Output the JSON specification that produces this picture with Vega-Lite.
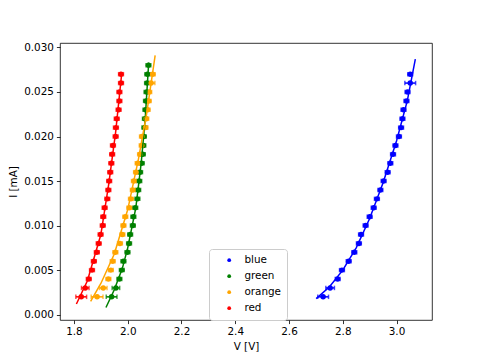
{
  "$schema": "https://vega.github.io/schema/vega-lite/v6.json",
  "width": 372,
  "height": 277,
  "autosize": {"type": "none"},
  "padding": {"left": 60, "top": 43, "right": 48, "bottom": 40},
  "background": "white",
  "config": {
    "view": {"stroke": "black", "strokeWidth": 0.8},
    "font": "DejaVu Sans",
    "axis": {
      "domain": false, "grid": false,
      "tickColor": "black", "tickSize": 3.6, "tickWidth": 0.8,
      "labelFont": "DejaVu Sans", "labelFontSize": 10.4, "labelColor": "black", "labelPadding": 3,
      "labelOverlap": false, "labelFlush": false,
      "titleFont": "DejaVu Sans", "titleFontSize": 10.4, "titleFontWeight": "normal", "titleColor": "black"
    }
  },
  "datasets": {
    "meas": [
      {"c":"blue","I":0.002,"V":2.727,"dV":0.02},
      {"c":"blue","I":0.003,"V":2.753,"dV":0.016},
      {"c":"blue","I":0.004,"V":2.781,"dV":0.009},
      {"c":"blue","I":0.005,"V":2.797,"dV":0.009},
      {"c":"blue","I":0.006,"V":2.822,"dV":0.009},
      {"c":"blue","I":0.007,"V":2.843,"dV":0.009},
      {"c":"blue","I":0.008,"V":2.860,"dV":0.009},
      {"c":"blue","I":0.009,"V":2.868,"dV":0.009},
      {"c":"blue","I":0.010,"V":2.885,"dV":0.009},
      {"c":"blue","I":0.011,"V":2.900,"dV":0.009},
      {"c":"blue","I":0.012,"V":2.915,"dV":0.009},
      {"c":"blue","I":0.013,"V":2.927,"dV":0.009},
      {"c":"blue","I":0.014,"V":2.940,"dV":0.009},
      {"c":"blue","I":0.015,"V":2.952,"dV":0.009},
      {"c":"blue","I":0.016,"V":2.967,"dV":0.009},
      {"c":"blue","I":0.017,"V":2.977,"dV":0.009},
      {"c":"blue","I":0.018,"V":2.987,"dV":0.009},
      {"c":"blue","I":0.019,"V":2.996,"dV":0.009},
      {"c":"blue","I":0.020,"V":3.009,"dV":0.009},
      {"c":"blue","I":0.021,"V":3.017,"dV":0.009},
      {"c":"blue","I":0.022,"V":3.022,"dV":0.009},
      {"c":"blue","I":0.023,"V":3.026,"dV":0.009},
      {"c":"blue","I":0.024,"V":3.037,"dV":0.009},
      {"c":"blue","I":0.025,"V":3.041,"dV":0.009},
      {"c":"blue","I":0.026,"V":3.051,"dV":0.02},
      {"c":"blue","I":0.027,"V":3.051,"dV":0.009},
      {"c":"green","I":0.002,"V":1.940,"dV":0.02},
      {"c":"green","I":0.003,"V":1.956,"dV":0.014},
      {"c":"green","I":0.004,"V":1.969,"dV":0.009},
      {"c":"green","I":0.005,"V":1.978,"dV":0.009},
      {"c":"green","I":0.006,"V":1.984,"dV":0.009},
      {"c":"green","I":0.007,"V":1.999,"dV":0.009},
      {"c":"green","I":0.008,"V":2.005,"dV":0.009},
      {"c":"green","I":0.009,"V":2.009,"dV":0.009},
      {"c":"green","I":0.010,"V":2.019,"dV":0.009},
      {"c":"green","I":0.011,"V":2.021,"dV":0.009},
      {"c":"green","I":0.012,"V":2.028,"dV":0.009},
      {"c":"green","I":0.013,"V":2.036,"dV":0.009},
      {"c":"green","I":0.014,"V":2.039,"dV":0.009},
      {"c":"green","I":0.015,"V":2.043,"dV":0.009},
      {"c":"green","I":0.016,"V":2.046,"dV":0.009},
      {"c":"green","I":0.017,"V":2.052,"dV":0.009},
      {"c":"green","I":0.018,"V":2.056,"dV":0.009},
      {"c":"green","I":0.019,"V":2.058,"dV":0.009},
      {"c":"green","I":0.020,"V":2.060,"dV":0.009},
      {"c":"green","I":0.021,"V":2.062,"dV":0.009},
      {"c":"green","I":0.022,"V":2.064,"dV":0.009},
      {"c":"green","I":0.023,"V":2.066,"dV":0.009},
      {"c":"green","I":0.024,"V":2.068,"dV":0.009},
      {"c":"green","I":0.025,"V":2.070,"dV":0.009},
      {"c":"green","I":0.026,"V":2.072,"dV":0.009},
      {"c":"green","I":0.027,"V":2.073,"dV":0.009},
      {"c":"green","I":0.028,"V":2.077,"dV":0.009},
      {"c":"orange","I":0.002,"V":1.886,"dV":0.022},
      {"c":"orange","I":0.003,"V":1.909,"dV":0.014},
      {"c":"orange","I":0.004,"V":1.928,"dV":0.009},
      {"c":"orange","I":0.005,"V":1.937,"dV":0.009},
      {"c":"orange","I":0.006,"V":1.944,"dV":0.009},
      {"c":"orange","I":0.007,"V":1.954,"dV":0.009},
      {"c":"orange","I":0.008,"V":1.971,"dV":0.009},
      {"c":"orange","I":0.009,"V":1.980,"dV":0.009},
      {"c":"orange","I":0.010,"V":1.984,"dV":0.009},
      {"c":"orange","I":0.011,"V":1.991,"dV":0.009},
      {"c":"orange","I":0.012,"V":2.006,"dV":0.009},
      {"c":"orange","I":0.013,"V":2.012,"dV":0.009},
      {"c":"orange","I":0.014,"V":2.019,"dV":0.009},
      {"c":"orange","I":0.015,"V":2.023,"dV":0.009},
      {"c":"orange","I":0.016,"V":2.031,"dV":0.009},
      {"c":"orange","I":0.017,"V":2.037,"dV":0.009},
      {"c":"orange","I":0.018,"V":2.046,"dV":0.009},
      {"c":"orange","I":0.019,"V":2.052,"dV":0.009},
      {"c":"orange","I":0.020,"V":2.053,"dV":0.009},
      {"c":"orange","I":0.021,"V":2.066,"dV":0.009},
      {"c":"orange","I":0.022,"V":2.069,"dV":0.009},
      {"c":"orange","I":0.023,"V":2.074,"dV":0.009},
      {"c":"orange","I":0.024,"V":2.078,"dV":0.009},
      {"c":"orange","I":0.025,"V":2.080,"dV":0.009},
      {"c":"orange","I":0.026,"V":2.087,"dV":0.014},
      {"c":"orange","I":0.027,"V":2.093,"dV":0.009},
      {"c":"red","I":0.002,"V":1.827,"dV":0.02},
      {"c":"red","I":0.003,"V":1.842,"dV":0.014},
      {"c":"red","I":0.004,"V":1.855,"dV":0.009},
      {"c":"red","I":0.005,"V":1.867,"dV":0.009},
      {"c":"red","I":0.006,"V":1.874,"dV":0.009},
      {"c":"red","I":0.007,"V":1.885,"dV":0.009},
      {"c":"red","I":0.008,"V":1.892,"dV":0.009},
      {"c":"red","I":0.009,"V":1.899,"dV":0.009},
      {"c":"red","I":0.010,"V":1.907,"dV":0.009},
      {"c":"red","I":0.011,"V":1.909,"dV":0.009},
      {"c":"red","I":0.012,"V":1.914,"dV":0.009},
      {"c":"red","I":0.013,"V":1.924,"dV":0.009},
      {"c":"red","I":0.014,"V":1.928,"dV":0.009},
      {"c":"red","I":0.015,"V":1.931,"dV":0.009},
      {"c":"red","I":0.016,"V":1.935,"dV":0.009},
      {"c":"red","I":0.017,"V":1.939,"dV":0.009},
      {"c":"red","I":0.018,"V":1.942,"dV":0.009},
      {"c":"red","I":0.019,"V":1.945,"dV":0.009},
      {"c":"red","I":0.020,"V":1.955,"dV":0.009},
      {"c":"red","I":0.021,"V":1.956,"dV":0.009},
      {"c":"red","I":0.022,"V":1.959,"dV":0.009},
      {"c":"red","I":0.023,"V":1.966,"dV":0.009},
      {"c":"red","I":0.024,"V":1.969,"dV":0.009},
      {"c":"red","I":0.025,"V":1.969,"dV":0.009},
      {"c":"red","I":0.026,"V":1.975,"dV":0.009},
      {"c":"red","I":0.027,"V":1.975,"dV":0.009}
    ],
    "fit": [
      {"c":"blue","V":2.701,"I":0.0018},
      {"c":"blue","V":2.75,"I":0.0031},
      {"c":"blue","V":2.80,"I":0.0050},
      {"c":"blue","V":2.85,"I":0.0075},
      {"c":"blue","V":2.90,"I":0.0108},
      {"c":"blue","V":2.95,"I":0.0148},
      {"c":"blue","V":3.00,"I":0.0195},
      {"c":"blue","V":3.04,"I":0.0240},
      {"c":"blue","V":3.070,"I":0.0287},
      {"c":"green","V":1.919,"I":0.0008},
      {"c":"green","V":1.95,"I":0.0028},
      {"c":"green","V":1.98,"I":0.0052},
      {"c":"green","V":2.00,"I":0.0075},
      {"c":"green","V":2.03,"I":0.0120},
      {"c":"green","V":2.05,"I":0.0170},
      {"c":"green","V":2.065,"I":0.0220},
      {"c":"green","V":2.078,"I":0.0283},
      {"c":"orange","V":1.862,"I":0.0015},
      {"c":"orange","V":1.90,"I":0.0035},
      {"c":"orange","V":1.95,"I":0.0068},
      {"c":"orange","V":2.00,"I":0.0118},
      {"c":"orange","V":2.04,"I":0.0175},
      {"c":"orange","V":2.07,"I":0.0225},
      {"c":"orange","V":2.102,"I":0.0291},
      {"c":"red","V":1.809,"I":0.0012},
      {"c":"red","V":1.85,"I":0.0038},
      {"c":"red","V":1.90,"I":0.0090},
      {"c":"red","V":1.93,"I":0.0148},
      {"c":"red","V":1.955,"I":0.0205},
      {"c":"red","V":1.978,"I":0.0272}
    ]
  },
  "resolve": {"legend": {"color": "independent"}},
  "layer": [
    {
      "data": {"name": "meas"},
      "mark": {"type": "errorbar", "ticks": {"size": 4.5, "thickness": 1.5}, "rule": {"strokeWidth": 1.5}},
      "encoding": {
        "x": {"field": "V", "type": "quantitative", "title": "V [V]"},
        "xError": {"field": "dV"},
        "y": {"field": "I", "type": "quantitative", "title": "I [mA]"},
        "color": {"field": "c", "type": "nominal", "legend": null}
      }
    },
    {
      "data": {"name": "meas"},
      "mark": {"type": "point", "filled": true, "size": 30, "opacity": 1},
      "encoding": {
        "x": {"field": "V", "type": "quantitative",
              "scale": {"domain": [1.748, 3.132], "nice": false, "zero": false},
              "axis": {"title": "V [V]", "values": [1.8, 2.0, 2.2, 2.4, 2.6, 2.8, 3.0], "format": ".1f", "titlePadding": 4}},
        "y": {"field": "I", "type": "quantitative",
              "scale": {"domain": [-0.0006, 0.0305], "nice": false, "zero": false},
              "axis": {"title": "I [mA]", "values": [0, 0.005, 0.01, 0.015, 0.02, 0.025, 0.03], "format": ".3f", "titlePadding": 5}},
        "color": {"field": "c", "type": "nominal",
                  "scale": {"domain": ["blue", "green", "orange", "red"], "range": ["#0000ff", "#008000", "#ffa500", "#ff0000"]},
                  "legend": {"title": null, "orient": "none", "legendX": 149, "legendY": 206,
                             "padding": 6, "symbolType": "circle", "symbolSize": 14, "symbolOffset": 9,
                             "labelOffset": 10, "labelFont": "DejaVu Sans", "labelFontSize": 10.4, "labelColor": "black",
                             "rowPadding": 5, "strokeColor": "#cccccc", "fillColor": "white", "cornerRadius": 3}}
      }
    },
    {
      "data": {"name": "fit"},
      "mark": {"type": "line", "strokeWidth": 1.5},
      "encoding": {
        "x": {"field": "V", "type": "quantitative", "title": "V [V]"},
        "y": {"field": "I", "type": "quantitative", "title": "I [mA]"},
        "color": {"field": "c", "type": "nominal", "legend": null}
      }
    }
  ]
}
